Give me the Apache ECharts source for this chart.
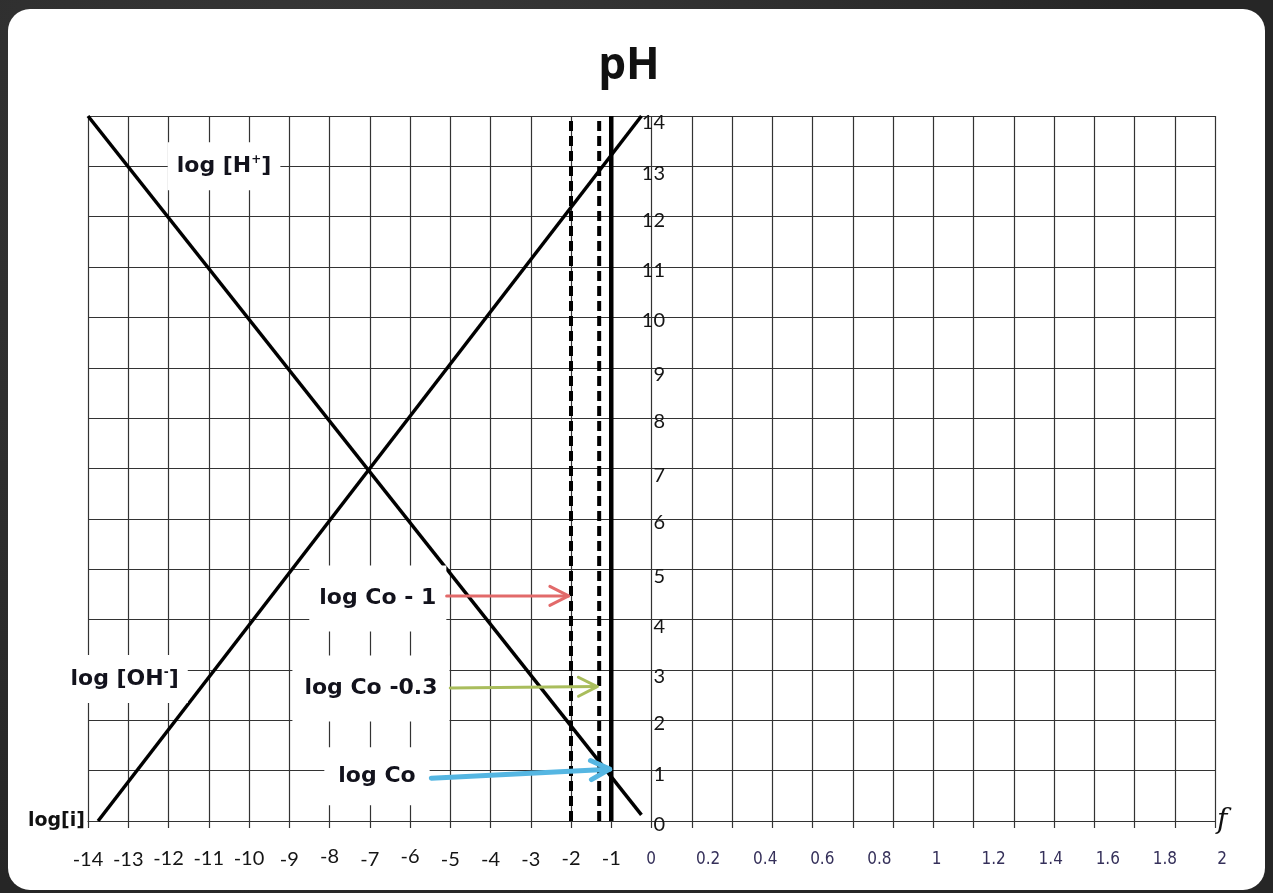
<!DOCTYPE html>
<html>
<head>
<meta charset="utf-8">
<title>pH – log[i] diagram</title>
<script src="https://cdn.jsdelivr.net/npm/echarts@6/dist/echarts.min.js"></script>
<style>
  html, body { margin: 0; padding: 0; width: 1273px; height: 893px; overflow: hidden;
    background: #2e2e2e radial-gradient(circle at 30% 20%, #3a3a3a 0%, #262626 70%); }
  #card { position: absolute; left: 8px; top: 9px; width: 1257px; height: 881px;
    background: #fff; border-radius: 22px; }
  #chart { position: absolute; left: 0; top: 0; width: 1273px; height: 893px; }
</style>
</head>
<body>
<div id="card"></div>
<div id="chart"></div>
<script>
// Log-concentration diagram of water: log[H+] and log[OH-] against pH,
// with the log Co reference levels and a fraction (f) scale on the right.

// tick labels
const logTicks = [-14, -13, -12, -11, -10, -9, -8, -7, -6, -5, -4, -3, -2, -1];
const phTicks = [0, 1, 2, 3, 4, 5, 6, 7, 8, 9, 10, 11, 12, 13, 14];
const fTicks = [0, 0.2, 0.4, 0.6, 0.8, 1, 1.2, 1.4, 1.6, 1.8, 2];

// species lines, [log value, pH]
const logH = [[-14, 14], [-0.25, 0.12]];
const logOH = [[-13.75, 0], [-0.25, 14]];

// log Co levels (Co = 0.1 M)
const levelNames = ['log Co - 1', 'log Co -0.3', 'log Co'];
const levelX = [-2, -1.3, -1];
const levelDashed = [true, true, false];

// arrows from each level label to its line
const arrowFrom = [[-5.09, 4.47], [-5.0, 2.64], [-5.47, 0.85]];
const arrowTo = [[-2.06, 4.47], [-1.35, 2.67], [-1.04, 1.03]];

// annotation texts and anchor points
const noteText = ['log [H{s|+}]', 'log [OH{s|-}]', levelNames[0], levelNames[1], levelNames[2]];
const noteAt = [[-10.62, 13.0], [-13.09, 2.82], [-6.8, 4.42], [-6.97, 2.63], [-6.82, 0.89]];

const arrowColors = ['#e26a6a', '#a9bd5c', '#55b6e2'];
const arrowWidths = [3, 3, 5];
const notePads = [[12, 9], [12, 9], [21, 10], [21, 12], [17, 14]];

const gridColor = '#333';
const numFont = 'Lato';

function digitClass(s, raiseSixEight) {
  const last = s[s.length - 1];
  if (raiseSixEight && /[68]/.test(s)) return 'hi';
  return '34579'.includes(last) ? 'lo' : 'mid';
}

const chart = echarts.init(document.getElementById('chart'), null, { renderer: 'canvas' });

const baseNum = { fontFamily: numFont, fontSize: 20, color: '#151515', lineHeight: 20 };

const levelSeries = levelX.map((x, i) => ({
  type: 'line',
  name: levelNames[i],
  xAxisIndex: 0, yAxisIndex: 0,
  data: [[x, 0], [x, 14]],
  symbol: 'none',
  silent: true,
  z: 3,
  lineStyle: { color: '#000', width: levelDashed[i] ? 4 : 4.5, type: levelDashed[i] ? [10, 5] : 'solid', cap: 'butt' }
}));

const option = {
  animation: false,
  grid: [
    // log[i] panel plus the f panel share one square grid
    { left: 88, right: 58, top: 116, bottom: 72, outerBoundsMode: 'none' },
    // f scale, whose left edge carries the pH labels
    { left: 651, right: 51, top: 116, bottom: 72, outerBoundsMode: 'none' }
  ],
  xAxis: [
    {
      gridIndex: 0, type: 'value', min: -14, max: 14, interval: 1,
      name: 'log[i]', nameLocation: 'start', nameGap: 3,
      nameTextStyle: { fontFamily: 'DejaVu Sans', fontWeight: 'bold', fontSize: 19, color: '#111', padding: [0, 0, 4, 0] },
      axisLine: { show: true, onZero: false, lineStyle: { color: gridColor, width: 1.2 } },
      axisTick: { show: true, length: 7, lineStyle: { color: gridColor, width: 1.2 } },
      splitLine: { show: true, lineStyle: { color: gridColor, width: 1.2 } },
      axisLabel: {
        margin: 26,
        formatter: v => (logTicks.includes(v) ? '{' + digitClass(String(v), true) + '|' + v + '}' : ''),
        rich: {
          hi: Object.assign({}, baseNum, { padding: [0, 0, 0, 0] }),
          mid: Object.assign({}, baseNum, { padding: [4, 0, 0, 0] }),
          lo: Object.assign({}, baseNum, { padding: [6, 0, 0, 0] })
        }
      }
    },
    {
      gridIndex: 1, type: 'value', min: 0, max: 2, interval: 0.2,
      name: 'f', nameLocation: 'end', nameGap: -5,
      nameTextStyle: { fontFamily: 'DejaVu Serif', fontStyle: 'italic', fontSize: 28, color: '#111', padding: [0, 0, 4, 0] },
      axisLine: { show: false, onZero: false }, axisTick: { show: false }, splitLine: { show: false },
      axisLabel: {
        margin: 30,
        fontFamily: "'Liberation Sans Narrow', 'DejaVu Sans Condensed', 'Roboto Condensed', 'Liberation Sans'",
        fontSize: 17, color: '#35305a',
        formatter: v => {
          const t = fTicks.find(f => Math.abs(f - v) < 1e-6);
          return t === undefined ? '' : String(t);
        }
      }
    }
  ],
  yAxis: [
    {
      gridIndex: 0, type: 'value', min: 0, max: 14, interval: 1,
      axisLine: { show: false, onZero: false },
      axisTick: { show: false },
      axisLabel: { show: false },
      splitLine: { show: true, lineStyle: { color: gridColor, width: 1.2 } }
    },
    {
      gridIndex: 1, type: 'value', min: 0, max: 14, interval: 1, position: 'left',
      axisLine: { show: false, onZero: false },
      axisTick: { show: false },
      splitLine: { show: false },
      axisLabel: {
        margin: -14, align: 'right',
        formatter: v => (phTicks.includes(v) ? '{' + digitClass(String(v), false) + '|' + v + '}' : ''),
        rich: {
          mid: Object.assign({}, baseNum, { padding: [7, 0, 0, 0] }),
          lo: Object.assign({}, baseNum, { padding: [14, 0, 0, 0] })
        }
      }
    }
  ],
  graphic: [
    {
      type: 'text', x: 629, y: 66, silent: true,
      style: { text: 'pH', fontFamily: 'Open Sans', fontWeight: 'bold', fontSize: 44, fill: '#111', align: 'center', verticalAlign: 'middle' }
    }
  ],
  series: [
    { type: 'line', name: 'log [H+]', xAxisIndex: 0, yAxisIndex: 0, data: logH, symbol: 'none', silent: true, z: 4,
      lineStyle: { color: '#000', width: 3.5 } },
    { type: 'line', name: 'log [OH-]', xAxisIndex: 0, yAxisIndex: 0, data: logOH, symbol: 'none', silent: true, z: 4,
      lineStyle: { color: '#000', width: 3.5 } },
    ...levelSeries,
    {
      type: 'scatter', name: 'notes', xAxisIndex: 0, yAxisIndex: 0, silent: true, z: 5,
      symbolSize: 1, itemStyle: { color: 'rgba(0,0,0,0)', opacity: 1 },
      data: noteAt.map((p, i) => ({ value: p, label: { padding: notePads[i] } })),
      label: {
        show: true, position: 'inside',
        formatter: p => noteText[p.dataIndex],
        backgroundColor: '#fff',
        fontFamily: 'DejaVu Sans', fontWeight: 'bold', fontSize: 22, lineHeight: 24, color: '#12121c',
        rich: { s: { fontFamily: 'DejaVu Sans', fontWeight: 'bold', fontSize: 12, color: '#12121c', padding: [0, 0, 12, 0] } }
      }
    },
    {
      type: 'custom', name: 'arrows', xAxisIndex: 0, yAxisIndex: 0, silent: true, z: 6,
      data: arrowFrom.map((a, i) => [a[0], a[1], arrowTo[i][0], arrowTo[i][1]]),
      renderItem: (params, api) => {
        const a = api.coord([api.value(0), api.value(1)]);
        const b = api.coord([api.value(2), api.value(3)]);
        const ang = Math.atan2(b[1] - a[1], b[0] - a[0]);
        const len = 21, spread = 0.47;
        const p1 = [b[0] - len * Math.cos(ang - spread), b[1] - len * Math.sin(ang - spread)];
        const p2 = [b[0] - len * Math.cos(ang + spread), b[1] - len * Math.sin(ang + spread)];
        const st = { stroke: arrowColors[params.dataIndex], lineWidth: arrowWidths[params.dataIndex],
          lineCap: 'round', lineJoin: 'round', fill: null };
        return {
          type: 'group',
          children: [
            { type: 'line', shape: { x1: a[0], y1: a[1], x2: b[0], y2: b[1] }, style: st },
            { type: 'polyline', shape: { points: [p1, b, p2] }, style: st }
          ]
        };
      }
    }
  ]
};

chart.setOption(option);
</script>
</body>
</html>
